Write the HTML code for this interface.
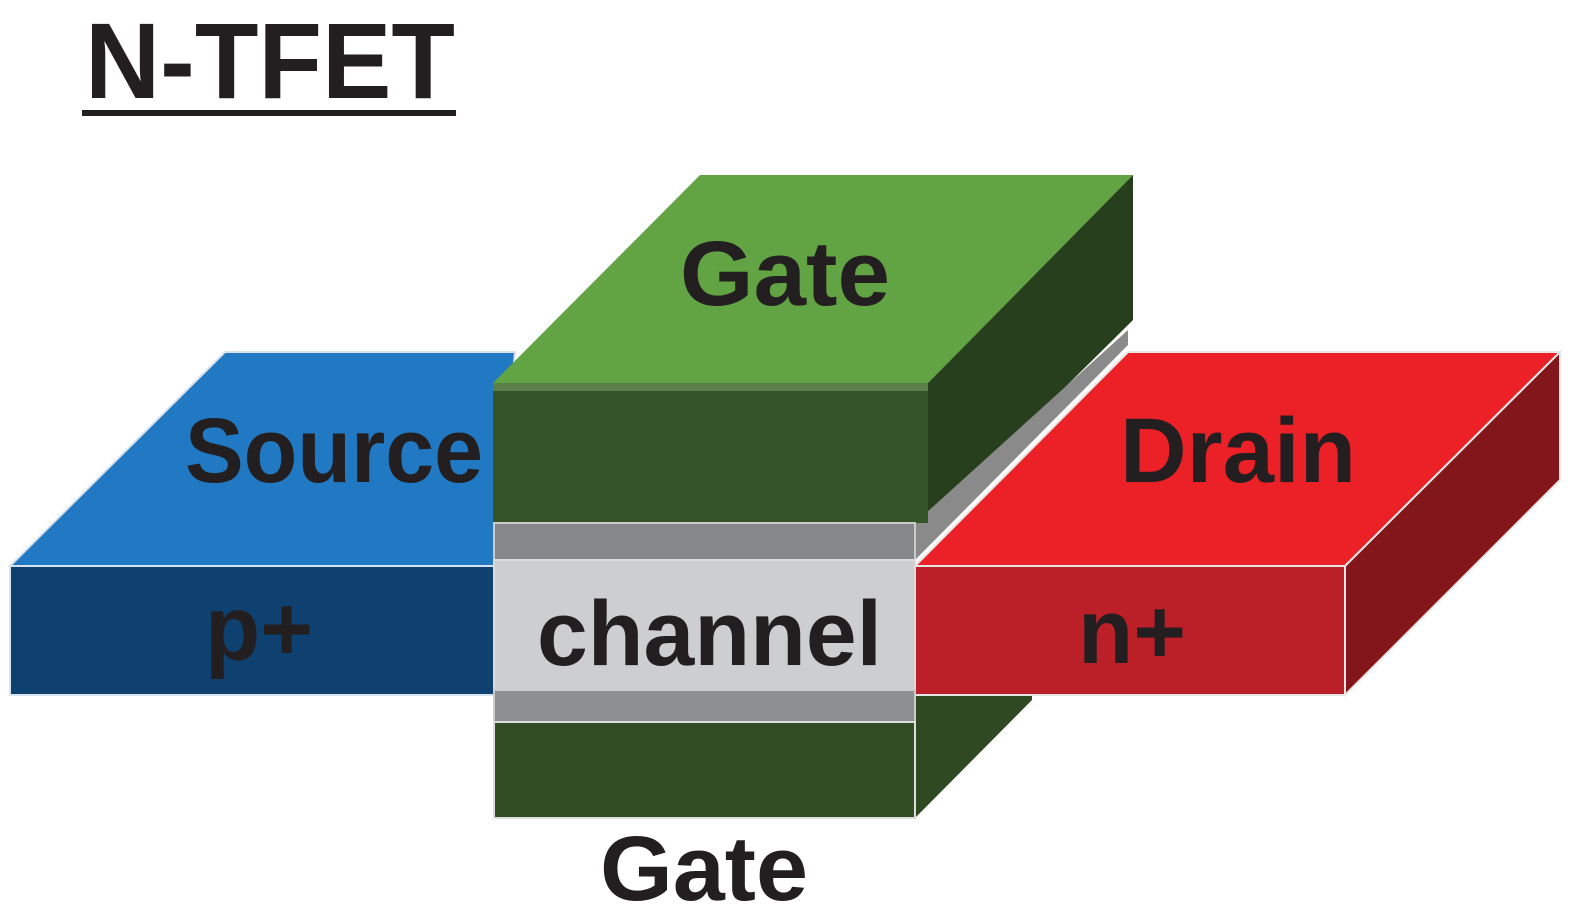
<!DOCTYPE html>
<html><head><style>html,body{margin:0;padding:0;background:#fff}svg{display:block}</style></head><body>
<svg width="1574" height="914" viewBox="0 0 1574 914" xmlns="http://www.w3.org/2000/svg" font-family="Liberation Sans, sans-serif" font-weight="bold" fill="#231f20">
<text x="85" y="98" font-size="108" textLength="370" lengthAdjust="spacingAndGlyphs">N-TFET</text>
<rect x="82" y="110" width="374" height="6" fill="#231f20"/>
<!-- bottom gate side -->
<polygon points="915,818 1032,700 1032,695 915,695" fill="#2f4a22"/>
<!-- source -->
<polygon points="10,566 225,352 515,352 495,566" fill="#2079c2" stroke="#d8e2ee" stroke-width="2"/>
<rect x="10" y="566" width="484" height="129" fill="#0f4170" stroke="#d8e2ee" stroke-width="2"/>
<!-- drain -->
<polygon points="915,566 1128,352 1560,352 1345,566" fill="#ec2027" stroke="#e6e6e6" stroke-width="2"/>
<polygon points="1345,566 1560,352 1560,480 1345,695" fill="#82161a" stroke="#e6e6e6" stroke-width="2"/>
<rect x="915" y="566" width="430" height="129" fill="#bb1f28" stroke="#e6e6e6" stroke-width="2"/>
<!-- top gate -->
<polygon points="493,383 700,175 1133,175 928,383" fill="#62a343"/>
<polygon points="928,383 1133,175 1133,320 928,523" fill="#273f1d"/>
<polygon points="915,523 1128,330 1128,345 915,560" fill="#8a8a8a"/>
<rect x="493" y="383" width="435" height="140" fill="#355528"/>
<rect x="493" y="383" width="435" height="8" fill="#5a7f48"/>
<!-- oxide, channel -->
<rect x="494" y="523" width="421" height="37" fill="#86878a" stroke="#ccc" stroke-width="2"/>
<rect x="494" y="560" width="421" height="130" fill="#cdcecf" stroke="#ddd" stroke-width="2"/>
<rect x="494" y="690" width="421" height="32" fill="#8e8f91" stroke="#ccc" stroke-width="2"/>
<rect x="494" y="722" width="421" height="96" fill="#324d24" stroke="#ddd" stroke-width="2"/>
<text x="680" y="305" font-size="92" textLength="210" lengthAdjust="spacingAndGlyphs">Gate</text>
<text x="185" y="482" font-size="92" textLength="298" lengthAdjust="spacingAndGlyphs">Source</text>
<text x="1120" y="482" font-size="92" textLength="236" lengthAdjust="spacingAndGlyphs">Drain</text>
<text x="205" y="660" font-size="92" textLength="108" lengthAdjust="spacingAndGlyphs">p+</text>
<text x="537" y="665" font-size="92" textLength="345" lengthAdjust="spacingAndGlyphs">channel</text>
<text x="1078" y="663" font-size="92" textLength="108" lengthAdjust="spacingAndGlyphs">n+</text>
<text x="600" y="900" font-size="92" textLength="208" lengthAdjust="spacingAndGlyphs">Gate</text>
</svg>
</body></html>
